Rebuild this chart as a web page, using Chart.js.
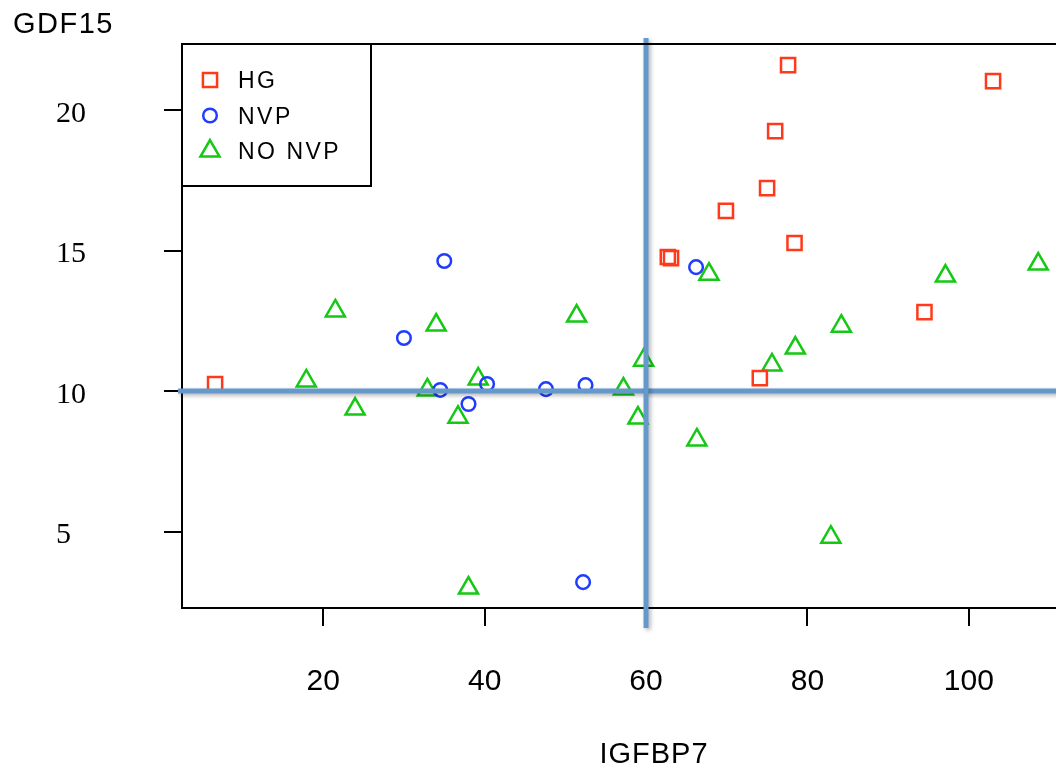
<!DOCTYPE html>
<html>
<head>
<meta charset="utf-8">
<script src="https://cdn.jsdelivr.net/npm/chart.js@4.4.1/dist/chart.umd.min.js"></script>
<style>
  html, body { margin: 0; padding: 0; background: #fff; }
  #wrap { width: 1056px; height: 766px; }
</style>
</head>
<body>
<div id="wrap"><canvas id="chart"></canvas></div>
<script>
// HG-ryhmä (punaiset neliöt)
const hgX = [6.6, 77.6, 103.0, 76.0, 75.0, 69.9, 78.4, 62.7, 63.1, 94.5, 74.1];
const hgY = [10.25, 21.6, 21.03, 19.25, 17.22, 16.41, 15.27, 14.77, 14.73, 12.81, 10.46];

// NVP-ryhmä (siniset ympyrät)
const nvpX = [35.0, 30.0, 34.5, 40.3, 38.0, 47.6, 52.5, 66.2, 52.2];
const nvpY = [14.63, 11.89, 10.04, 10.25, 9.54, 10.07, 10.21, 14.41, 3.20];

// NO NVP -ryhmä (vihreät kolmiot)
const noNvpX = [21.5, 17.9, 23.95, 34.0, 32.9, 36.7, 39.2, 38.0, 51.4, 57.2,
  59.7, 59.0, 67.8, 66.3, 75.6, 78.5, 84.2, 82.9, 97.1, 108.6];
const noNvpY = [12.85, 10.36, 9.36, 12.35, 10.04, 9.07, 10.43, 2.99, 12.67, 10.07,
  11.10, 9.04, 14.16, 8.26, 10.93, 11.53, 12.31, 4.80, 14.09, 14.52];

// Akselien merkinnät
const xTicks = [20, 40, 60, 80, 100];
const yTicks = [5, 10, 15, 20];

// Raja-arvot (siniset viivat)
const xCut = 60;
const yCut = 10;

// Muutetaan taulukot pisteiksi
const toPoints = (xs, ys) => xs.map((x, i) => ({ x, y: ys[i] }));

// Siniset viivat, otsikot ja selite piirretään itse
const extras = {
  id: 'extras',
  afterDatasetsDraw(chart) {
    const { ctx, chartArea, scales } = chart;
    const px = scales.x.getPixelForValue(xCut);
    const py = scales.y.getPixelForValue(yCut);
    ctx.save();
    ctx.strokeStyle = '#6598cb';
    ctx.lineWidth = 5;
    ctx.shadowColor = 'rgba(0, 0, 0, 0.3)';
    ctx.shadowBlur = 4;
    ctx.shadowOffsetX = 2;
    ctx.shadowOffsetY = 2;
    ctx.beginPath();
    ctx.moveTo(chartArea.left - 4, py);
    ctx.lineTo(chartArea.right + 10, py);
    ctx.stroke();
    ctx.beginPath();
    ctx.moveTo(px, chartArea.top - 6);
    ctx.lineTo(px, chartArea.bottom + 20);
    ctx.stroke();
    ctx.restore();
  },
  afterDraw(chart) {
    const { ctx, chartArea } = chart;
    ctx.save();
    // yläreuna
    ctx.strokeStyle = '#000';
    ctx.lineWidth = 2;
    ctx.beginPath();
    ctx.moveTo(chartArea.left, chartArea.top);
    ctx.lineTo(chartArea.right, chartArea.top);
    ctx.stroke();

    // akselien otsikot
    ctx.fillStyle = '#000';
    ctx.textBaseline = 'alphabetic';
    ctx.font = '29px "Liberation Sans", Arial, sans-serif';
    ctx.letterSpacing = '1.5px';
    ctx.textAlign = 'left';
    ctx.fillText('GDF15', 13, 33);
    ctx.letterSpacing = '1px';
    ctx.textAlign = 'center';
    ctx.fillText('IGFBP7', 654, 763);

    // selite
    const boxX = chartArea.left;
    const boxY = chartArea.top;
    ctx.strokeRect(boxX, boxY, 189, 142);
    ctx.font = '23px "Liberation Sans", Arial, sans-serif';
    ctx.letterSpacing = '2.5px';
    ctx.textAlign = 'left';
    chart.data.datasets.forEach((ds, i) => {
      const y = boxY + 36 + i * 35.5;
      ctx.strokeStyle = ds.borderColor;
      ctx.fillStyle = 'rgba(0, 0, 0, 0)';
      ctx.lineWidth = ds.borderWidth;
      Chart.helpers.drawPoint(ctx, {
        pointStyle: ds.pointStyle,
        radius: ds.pointRadius,
        borderWidth: ds.borderWidth,
        rotation: 0
      }, boxX + 28, y);
      ctx.fillStyle = '#000';
      ctx.fillText(ds.label, boxX + 56, y + 8);
    });
    ctx.restore();
  }
};

// Poistetaan Chart.js:n automaattinen sivutäyte x-akselilta
const fitX = (s) => {
  s.height = 158;
  s.paddingLeft = 0;
  s.paddingRight = 0;
};

const ctx = document.getElementById('chart').getContext('2d');
new Chart(ctx, {
  type: 'scatter',
  data: {
    datasets: [
      {
        label: 'HG',
        data: toPoints(hgX, hgY),
        pointStyle: 'rect',
        pointRadius: 10,
        pointHoverRadius: 10,
        borderColor: '#ff3a1a',
        backgroundColor: 'rgba(0, 0, 0, 0)',
        borderWidth: 2.5
      },
      {
        label: 'NVP',
        data: toPoints(nvpX, nvpY),
        pointStyle: 'circle',
        pointRadius: 6.8,
        pointHoverRadius: 6.8,
        borderColor: '#1f3cff',
        backgroundColor: 'rgba(0, 0, 0, 0)',
        borderWidth: 2.5
      },
      {
        label: 'NO NVP',
        data: toPoints(noNvpX, noNvpY),
        pointStyle: 'triangle',
        pointRadius: 11,
        pointHoverRadius: 11,
        borderColor: '#14c814',
        backgroundColor: 'rgba(0, 0, 0, 0)',
        borderWidth: 2.5
      }
    ]
  },
  options: {
    responsive: true,
    maintainAspectRatio: false,
    animation: false,
    layout: { autoPadding: false, padding: { left: 56, top: 44, right: 0, bottom: 0 } },
    plugins: {
      legend: { display: false },
      tooltip: { enabled: false }
    },
    scales: {
      x: {
        type: 'linear',
        min: 2.5,
        max: 110.8,
        afterBuildTicks: (s) => { s.ticks = xTicks.map((v) => ({ value: v })); },
        afterFit: fitX,
        border: { display: true, color: '#000', width: 2 },
        grid: { drawOnChartArea: false, color: '#000', lineWidth: 2, tickLength: 18 },
        ticks: {
          color: '#000',
          padding: 38,
          maxRotation: 0,
          font: { family: '"Liberation Sans", Arial, sans-serif', size: 30 }
        }
      },
      y: {
        type: 'linear',
        min: 2.28,
        max: 22.35,
        afterBuildTicks: (s) => { s.ticks = yTicks.map((v) => ({ value: v })); },
        afterFit: (s) => { s.width = 126; },
        border: { display: true, color: '#000', width: 2 },
        grid: { drawOnChartArea: false, color: '#000', lineWidth: 2, tickLength: 18 },
        ticks: {
          color: '#000',
          crossAlign: 'far',
          labelOffset: 4,
          font: { family: '"Liberation Serif", "Times New Roman", serif', size: 30 }
        }
      }
    }
  },
  plugins: [extras]
});
</script>
</body>
</html>
